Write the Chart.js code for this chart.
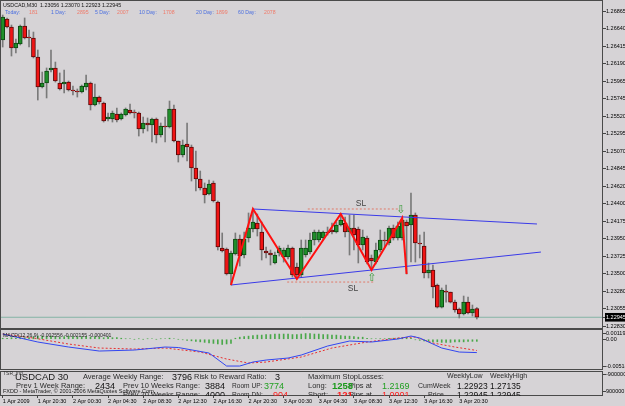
<!DOCTYPE html>
<html>
<head>
<meta charset="utf-8">
<script src="https://cdn.jsdelivr.net/npm/chart.js@4.4.0/dist/chart.umd.min.js"></script>
<style>
body{margin:0;background:#d6d3d6;}
#wrap{position:relative;width:625px;height:406px;overflow:hidden;font-family:"Liberation Sans",Arial,sans-serif;}
canvas{position:absolute;left:0;}
.t{position:absolute;white-space:nowrap;line-height:1;}
.b{color:#4a6ee0;font-size:5.2px;top:9.8px}.s{color:#f07a6a;font-size:5.2px;top:9.8px}
.l{font-size:7.5px;color:#2c2c2c}.n{font-size:9px;color:#111}
#info{position:absolute;left:0;top:371px;width:603px;height:25px;overflow:hidden;}
</style>
</head>
<body>
<div id="wrap">
<canvas id="main" width="625" height="329" style="top:0"></canvas>
<canvas id="macd" width="625" height="41" style="top:329px"></canvas>
<canvas id="low" width="625" height="35" style="top:371px"></canvas>

<div class="t" style="left:3px;top:3.2px;font-size:5.3px;color:#111">USDCAD,M30&nbsp; 1.23056 1.23070 1.22923 1.22945</div>
<div class="t b" style="left:5px">Today:</div>
<div class="t s" style="left:29px">181</div>
<div class="t b" style="left:51px">1 Day:</div>
<div class="t s" style="left:77px">2895</div>
<div class="t b" style="left:95px">5 Day:</div>
<div class="t s" style="left:117px">2007</div>
<div class="t b" style="left:139px">10 Day:</div>
<div class="t s" style="left:163px">1708</div>
<div class="t b" style="left:196px">20 Day:</div>
<div class="t s" style="left:216px">1899</div>
<div class="t b" style="left:238px">60 Day:</div>
<div class="t s" style="left:264px">2078</div>

<div class="t" style="left:3px;top:332.5px;font-size:5.1px;color:#222">MACD(12,26,9) -0.002556 -0.002155 -0.000401</div>

<div id="info">
<div class="t" style="left:3px;top:0px;font-size:5px;color:#333">TSR_Ind</div>
<div class="t" style="left:15px;top:1.3px;font-size:9.5px;color:#1a1a1a">USDCAD 30</div>
<div class="t l" style="left:83px;top:2.3px">Average Weekly Range:</div>
<div class="t n" style="left:172px;top:1.6px">3796</div>
<div class="t l" style="left:194px;top:2.3px">Risk to Reward Ratio:</div>
<div class="t n" style="left:275px;top:1.6px">3</div>
<div class="t l" style="left:308px;top:1.5px">Maximum StopLosses:</div>
<div class="t l" style="left:447px;top:0.6px;font-size:7px">WeeklyLow</div>
<div class="t l" style="left:490px;top:0.6px;font-size:7px">WeeklyHigh</div>

<div class="t l" style="left:16px;top:11.3px">Prev 1 Week Range:</div>
<div class="t n" style="left:95px;top:10.6px">2434</div>
<div class="t l" style="left:123px;top:11.3px">Prev 10 Weeks Range:</div>
<div class="t n" style="left:205px;top:10.6px">3884</div>
<div class="t l" style="left:232px;top:11.6px;font-size:6.6px">Room UP:</div>
<div class="t n" style="left:264px;top:10.6px;color:#22a022">3774</div>
<div class="t l" style="left:308px;top:11.3px">Long:</div>
<div class="t l" style="left:349px;top:11.3px">Pips at</div>
<div class="t n" style="left:332px;top:10.2px;font-size:9.5px;font-weight:bold;color:#1a9a1a">1258</div>
<div class="t n" style="left:382px;top:10.6px;color:#22a022">1.2169</div>
<div class="t l" style="left:418px;top:10.6px;font-size:7px">CumWeek</div>
<div class="t n" style="left:457px;top:10.8px;font-size:8.5px">1.22923</div>
<div class="t n" style="left:490px;top:10.8px;font-size:8.5px">1.27135</div>

<div class="t l" style="left:123px;top:20.3px">Prev 20 Weeks Range:</div>
<div class="t n" style="left:205px;top:19.6px">4000</div>
<div class="t l" style="left:232px;top:20.6px;font-size:6.6px">Room DN:</div>
<div class="t n" style="left:273px;top:19.6px;color:#ff2020">904</div>
<div class="t l" style="left:308px;top:20.3px">Short:</div>
<div class="t l" style="left:349px;top:20.3px">Pips at</div>
<div class="t n" style="left:337px;top:19.2px;font-size:9.5px;font-weight:bold;color:#ff1a1a">121</div>
<div class="t n" style="left:382px;top:19.6px;color:#ff2020">1.0001</div>
<div class="t l" style="left:428px;top:20px;font-size:7px">Price</div>
<div class="t n" style="left:457px;top:19.8px;font-size:8.5px">1.22945</div>
<div class="t n" style="left:490px;top:19.8px;font-size:8.5px">1.22945</div>
<div class="t" style="left:3px;top:17.5px;font-size:5.5px;color:#1a1a1a">FXDD - MetaTrader, &copy; 2001-2006 MetaQuotes Software Corp.</div>
</div>
</div>

<script>
// USDCAD M30, 1 Apr 16:30 -> 3 Apr 22:30
const opens = [1.26494,1.26763,1.26660,1.26392,1.26443,1.26673,1.26532,1.26520,1.26276,1.25892,
1.25944,1.26110,1.26136,1.25944,1.25931,1.25956,1.25854,1.25841,1.25828,1.25892,
1.25944,1.25662,1.25764,1.25688,1.25483,1.25483,1.25547,1.25483,1.25534,1.25598,
1.25572,1.25560,1.25355,1.25432,1.25406,1.25483,1.25278,1.25393,1.25380,1.25611,
1.25201,1.25022,1.25163,1.25124,1.24856,1.24715,1.24600,1.24523,1.24664,1.24420,
1.23832,1.23819,1.23499,1.23755,1.23947,1.23742,1.23960,1.24075,1.24152,1.24036,
1.23793,1.23768,1.23640,1.23768,1.23716,1.23716,1.23832,1.23588,1.23486,1.23742,
1.23780,1.23934,1.23934,1.23960,1.24036,1.24062,1.24036,1.24126,1.24152,1.24036,
1.24088,1.24075,1.23870,1.23960,1.23704,1.23652,1.23806,1.23934,1.23896,1.24088,
1.23960,1.23960,1.24164,1.24126,1.24254,1.23896,1.23857,1.23512,1.23550,1.23358,
1.23076,1.23281,1.23268,1.23140,1.23051,1.22987,1.23140,1.23000,1.23056];
const highs = [1.26814,1.26776,1.26686,1.26507,1.26686,1.26776,1.26622,1.26596,1.26366,1.26084,
1.26136,1.26366,1.26212,1.26072,1.26110,1.25969,1.25905,1.25867,1.25918,1.26046,
1.25956,1.25931,1.25777,1.25700,1.25560,1.25585,1.25624,1.25560,1.25624,1.25675,
1.25598,1.25572,1.25508,1.25496,1.25496,1.25496,1.25432,1.25508,1.25713,1.25662,
1.25201,1.25214,1.25432,1.25150,1.25073,1.24817,1.24664,1.24702,1.24689,1.24433,
1.24024,1.23832,1.23793,1.24024,1.23998,1.24036,1.24280,1.24331,1.24267,1.24164,
1.23844,1.23806,1.23780,1.23857,1.23832,1.23870,1.23844,1.23640,1.23934,1.23934,
1.24024,1.24062,1.24062,1.24049,1.24100,1.24152,1.24164,1.24267,1.24228,1.24254,
1.24254,1.24100,1.24062,1.23985,1.23742,1.23896,1.24062,1.24036,1.24113,1.24126,
1.24164,1.24216,1.24190,1.24536,1.24280,1.23998,1.24036,1.23640,1.23614,1.23371,
1.23320,1.23358,1.23268,1.23166,1.23064,1.23217,1.23204,1.23102,1.23070];
const lows = [1.26404,1.26648,1.26289,1.26328,1.26430,1.26507,1.26404,1.26264,1.25726,1.25880,
1.25752,1.26084,1.25956,1.25854,1.25816,1.25841,1.25790,1.25764,1.25816,1.25854,
1.25598,1.25649,1.25675,1.25444,1.25457,1.25444,1.25444,1.25470,1.25521,1.25547,
1.25496,1.25265,1.25304,1.25329,1.25188,1.25176,1.25252,1.25188,1.25368,1.25188,
1.24932,1.24996,1.24945,1.24689,1.24561,1.24574,1.24408,1.24510,1.24420,1.23806,
1.23780,1.23486,1.23358,1.23742,1.23601,1.23704,1.23908,1.24036,1.23985,1.23678,
1.23704,1.23614,1.23627,1.23729,1.23652,1.23691,1.23460,1.23435,1.23460,1.23716,
1.23755,1.23870,1.23908,1.23934,1.23998,1.24011,1.24024,1.24113,1.23972,1.23742,
1.23806,1.23640,1.23806,1.23627,1.23550,1.23627,1.23780,1.23844,1.23870,1.23934,
1.23934,1.23934,1.23499,1.23652,1.23652,1.23704,1.23448,1.23448,1.23192,1.23064,
1.23064,1.23140,1.23128,1.23012,1.22936,1.22974,1.22987,1.22961,1.22923];
const closes = [1.26788,1.26660,1.26392,1.26456,1.26673,1.26520,1.26520,1.26276,1.25892,1.25944,
1.26097,1.26136,1.25969,1.25867,1.25956,1.25854,1.25841,1.25828,1.25905,1.25944,
1.25662,1.25764,1.25700,1.25457,1.25508,1.25560,1.25470,1.25547,1.25611,1.25560,
1.25560,1.25355,1.25432,1.25406,1.25483,1.25278,1.25393,1.25380,1.25611,1.25201,
1.25022,1.25150,1.25124,1.24856,1.24715,1.24600,1.24510,1.24651,1.24433,1.23844,
1.23793,1.23499,1.23768,1.23947,1.23729,1.23947,1.24088,1.24164,1.24075,1.23806,
1.23768,1.23742,1.23742,1.23832,1.23806,1.23832,1.23486,1.23486,1.23832,1.23832,
1.23934,1.24036,1.24036,1.24036,1.24024,1.24036,1.24126,1.24190,1.24036,1.24088,
1.23998,1.23870,1.23972,1.23652,1.23665,1.23806,1.23934,1.23921,1.24088,1.23960,
1.24113,1.24190,1.24113,1.24254,1.23896,1.23883,1.23512,1.23550,1.23332,1.23076,
1.23294,1.23268,1.23140,1.23038,1.22987,1.23140,1.23000,1.23051,1.22945];

// zigzag turning points: [bar, 'H' | 'L']
const zigzag = [[52,'L'],[57,'H'],[67,'L'],[77,'H'],[84,'L'],[91,'H'],[92,'L']];
// channel lines drawn on the chart: [bar, price] end points
const upperLine = [[57, 1.24331], [121.7, 1.24139]];
const lowerLine = [[52, 1.23358], [122.6, 1.23780]];
const slUpper = [[69.5, 1.24331], [90.3, 1.24331]];
const slLower = [[64.8, 1.23396], [84.8, 1.23396]];
const arrows = [{bar: 90.7, price: 1.24318, ch: '\u21E9'}, {bar: 84.1, price: 1.23448, ch: '\u21E7'}];
const slText = [{bar: 81.6, price: 1.24398, text: 'SL'}, {bar: 79.8, price: 1.23307, text: 'SL'}];

const priceTicks = ['1.26865','1.26640','1.26415','1.26190','1.25965','1.25745','1.25520','1.25295','1.25070',
  '1.24845','1.24620','1.24400','1.24175','1.23950','1.23725','1.23500','1.23280','1.23055','1.22830'];

// MACD(12,26,9)
const macdBars = [0,8,15,22,30,37,40,47,51,54,57,60,65,68,74,79,84,90,93,95,100,104,108];
const macdVals = [0.001007,-0.000530,-0.001491,-0.002259,-0.002067,-0.001491,-0.001587,-0.002643,-0.005141,-0.005141,
  -0.004372,-0.003988,-0.003604,-0.003028,-0.001299,-0.000338,-0.000530,0.000046,0.000622,0.000238,-0.001683,-0.002451,-0.002556];
const signalBars = [0,7,15,22,30,37,45,51,56,60,68,75,83,90,94,98,103,108];
const signalVals = [0.001007,0.000238,-0.000914,-0.001683,-0.001875,-0.001683,-0.002451,-0.003796,-0.004564,-0.004372,
  -0.003412,-0.001683,-0.000530,0.000238,0.000430,-0.000722,-0.001491,-0.002155];
const hist = [0.0002,0.0002,0.0003,0.0002,0.0003,0.0003,0.0003,
  0.0005,0.0006,0.0006,0.0005,0.0006,0.0005,0.0004,0.0005,0.0006,0.0005,0.0004,0.0005,0.0005,0.0004,0.0005,0.0004,0.0003,0.0004,0.0003,0.0003,0.0002,
  0.0001,0.0001,0,0.0001,0,0.0001,0.0001,0,0.0001,0.0001,0.0002,0.0001,0,-0.0001,
  -0.0002,-0.0003,-0.0004,-0.0005,-0.0006,-0.0007,-0.0008,-0.0009,-0.0010,-0.0009,-0.0008,
  0.0002,0.0004,0.0005,0.0006,0.0007,0.0008,0.0008,0.0009,0.0009,0.0010,0.0010,0.0010,0.0010,0.0009,0.0009,0.0010,0.0011,0.0011,0.0010,0.0010,0.0009,0.0009,0.0008,0.0008,0.0007,0.0006,0.0006,0.0005,0.0004,0.0004,
  0.0002,0.0001,0.0001,0.0001,0.0001,0.0002,0.0002,0.0002,0.0003,0.0003,0.0002,
  -0.0001,-0.0002,-0.0003,-0.0004,-0.0005,-0.0005,-0.0006,-0.0006,-0.0006,-0.0005,-0.0005,-0.0005,-0.0004,-0.0004,-0.0004];
const macdTicks = ['0.001199','0.00','-0.00514'];
const infoTicks = ['-900000','900000'];

const timeLabels = ['1 Apr 2009','1 Apr 20:30','2 Apr 00:30','2 Apr 04:30','2 Apr 08:30','2 Apr 12:30','2 Apr 16:30',
  '2 Apr 20:30','3 Apr 00:30','3 Apr 04:30','3 Apr 08:30','3 Apr 12:30','3 Apr 16:30','3 Apr 20:30'];
const barsPerLabel = 8;

const X_MIN = -0.615, X_MAX = 136.74;
const lastClose = closes[closes.length - 1];
const tickFont = {size: 5.5, family: '"Liberation Sans", Arial, sans-serif'};

Chart.defaults.font.family = '"Liberation Sans", Arial, sans-serif';
Chart.defaults.animation = false;
Chart.defaults.plugins.legend.display = false;
Chart.defaults.plugins.tooltip.enabled = false;

const frame = {
  id: 'frame',
  afterDraw(chart) {
    const {ctx, chartArea: a} = chart;
    ctx.save();
    ctx.strokeStyle = '#4a4a4a';
    ctx.lineWidth = 1;
    ctx.strokeRect(Math.round(a.left) + 0.5, Math.round(a.top) + 0.5, Math.round(a.width) - 1, Math.round(a.height) - 1);
    ctx.restore();
  }
};

const marks = {
  id: 'marks',
  afterDatasetsDraw(chart) {
    const {ctx, scales: {x, y}} = chart;
    ctx.save();
    ctx.textAlign = 'center';
    ctx.textBaseline = 'middle';
    ctx.fillStyle = '#3a9a3a';
    ctx.font = '11px "DejaVu Sans"';
    arrows.forEach(a => ctx.fillText(a.ch, x.getPixelForValue(a.bar), y.getPixelForValue(a.price)));
    ctx.fillStyle = '#444';
    ctx.font = '8.5px "Liberation Sans", Arial';
    slText.forEach(s => ctx.fillText(s.text, x.getPixelForValue(s.bar), y.getPixelForValue(s.price)));
    ctx.restore();
  }
};

const fixY = w => scale => { scale.width = w; scale.paddingTop = 0; scale.paddingBottom = 0; };
const pts = arr => arr.map(p => ({x: p[0], y: p[1]}));
const bull = closes.map((c, i) => c >= opens[i]);
const xAxis = {type: 'linear', min: X_MIN, max: X_MAX, offset: false, display: false};

const lineDs = (data, color, extra) => Object.assign({
  type: 'line', data, borderColor: color, borderWidth: 1, pointRadius: 0, fill: false, tension: 0
}, extra);

// ---------- price panel ----------
new Chart(document.getElementById('main'), {
  type: 'bar',
  data: {
    datasets: [
      lineDs(pts(zigzag.map(z => [z[0], z[1] === 'H' ? highs[z[0]] : lows[z[0]]])), '#ff1010', {borderWidth: 2, order: 0}),
      lineDs(pts(upperLine), '#3a3ae8', {order: 1}),
      lineDs(pts(lowerLine), '#3a3ae8', {order: 1}),
      lineDs(pts(slUpper), '#e07a6a', {borderDash: [2, 2], order: 1}),
      lineDs(pts(slLower), '#e07a6a', {borderDash: [2, 2], order: 1}),
      {
        data: closes.map((c, i) => ({x: i, y: [opens[i], c]})),
        backgroundColor: bull.map(b => b ? '#1f8f2a' : '#f01414'),
        borderColor: bull.map(b => b ? '#0d4a12' : '#5a0a0a'),
        borderWidth: 1, borderSkipped: false, barThickness: 4, minBarLength: 1, grouped: false, order: 3
      },
      {
        data: highs.map((h, i) => ({x: i, y: [lows[i], h]})),
        backgroundColor: '#7a7a7a', barThickness: 1, grouped: false, order: 4
      },
      lineDs([{x: X_MIN, y: lastClose}, {x: X_MAX, y: lastClose}], '#86b4a6', {order: 5})
    ]
  },
  options: {
    responsive: false,
    layout: {padding: 0},
    scales: {
      x: xAxis,
      y: {
        position: 'right', min: 1.22795, max: 1.27006,
        afterBuildTicks: s => {
          s.ticks = priceTicks.map(v => ({value: parseFloat(v)})).concat({value: lastClose}).sort((a, b) => a.value - b.value);
        },
        afterFit: fixY(22),
        border: {display: false},
        grid: {drawOnChartArea: false, tickLength: 3, color: '#444'},
        ticks: {
          autoSkip: false, padding: 0, font: tickFont,
          callback: v => v.toFixed(5),
          color: c => c.tick && c.tick.value === lastClose ? '#fff' : '#000',
          showLabelBackdrop: c => !!(c.tick && c.tick.value === lastClose),
          backdropColor: '#000',
          backdropPadding: {top: 1, bottom: 1, left: 1, right: 4}
        }
      }
    }
  },
  plugins: [frame, marks]
});

// ---------- MACD panel ----------
new Chart(document.getElementById('macd'), {
  type: 'bar',
  data: {
    datasets: [
      lineDs(macdBars.map((b, k) => ({x: b, y: macdVals[k]})), '#3246f0', {order: 0}),
      lineDs(signalBars.map((b, k) => ({x: b, y: signalVals[k]})), '#e83030', {borderDash: [2, 2], order: 1}),
      {data: hist.map((h, i) => ({x: i, y: h})), backgroundColor: '#4aa84a', barThickness: 1, grouped: false, order: 2}
    ]
  },
  options: {
    responsive: false,
    layout: {padding: 0},
    scales: {
      x: xAxis,
      y: {
        position: 'right', min: -0.0059, max: 0.00197,
        afterBuildTicks: s => { s.ticks = macdTicks.map(v => ({value: parseFloat(v)})).reverse(); },
        afterFit: fixY(22),
        border: {display: false},
        grid: {drawOnChartArea: false, tickLength: 3, color: '#444'},
        ticks: {autoSkip: false, padding: 0, font: tickFont, color: '#000',
          callback: v => macdTicks.find(t => parseFloat(t) === v)}
      }
    }
  },
  plugins: [frame]
});

// ---------- info panel + time axis ----------
new Chart(document.getElementById('low'), {
  type: 'line',
  data: {datasets: []},
  options: {
    responsive: false,
    layout: {padding: 0},
    scales: {
      x: {
        type: 'linear', min: X_MIN, max: X_MAX, offset: false,
        afterBuildTicks: s => { s.ticks = timeLabels.map((_, k) => ({value: k * barsPerLabel})); },
        afterFit: s => { s.height = 10; s.paddingLeft = 0; s.paddingRight = 0; },
        border: {display: false},
        grid: {drawOnChartArea: false, tickLength: 2, color: '#444'},
        ticks: {autoSkip: false, maxRotation: 0, align: 'start', padding: 0, font: tickFont, color: '#000',
          callback: (v, i) => timeLabels[i]}
      },
      y: {
        position: 'right', reverse: true, min: -1220000, max: 1430000,
        afterBuildTicks: s => { s.ticks = infoTicks.map(v => ({value: parseFloat(v)})); },
        afterFit: fixY(22),
        border: {display: false},
        grid: {drawOnChartArea: false, tickLength: 3, color: '#444'},
        ticks: {autoSkip: false, padding: 0, font: tickFont, color: '#000',
          callback: v => infoTicks.find(t => parseFloat(t) === v)}
      }
    }
  },
  plugins: [frame]
});
</script>
</body>
</html>
